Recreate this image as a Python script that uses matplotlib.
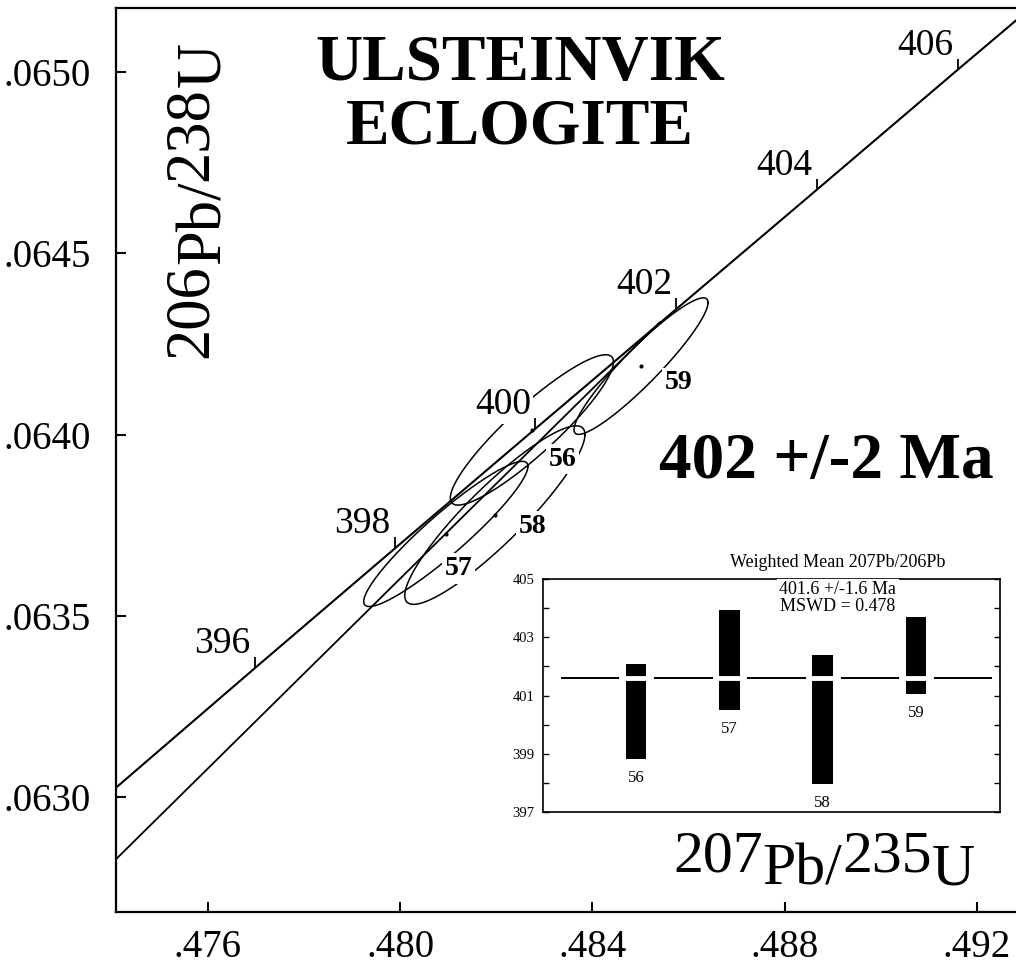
import numpy as np
import matplotlib.pyplot as plt

plt.rcParams['font.family'] = ['Liberation Serif', 'DejaVu Serif']

# concordia (age Ma, 207Pb/235U, 206Pb/238U)
conc_age = [394, 396, 398, 400, 402, 404, 406, 408]
conc_x = [0.47409, 0.47698, 0.47989, 0.48281, 0.48574, 0.48867, 0.49160, 0.49455]
conc_y = [0.063026, 0.063356, 0.063686, 0.064016, 0.064346, 0.064676, 0.065007, 0.065338]
tick_ages = [396, 398, 400, 402, 404, 406]

# regression line through the data
disc_x = [0.4741, 0.4854]
disc_y = [0.06283, 0.06431]

# zircon fractions: centre, errors, error correlation
frac = ['56', '57', '58', '59']
ell_x = [0.48274, 0.48095, 0.48197, 0.48501]
ell_y = [0.064013, 0.063726, 0.063778, 0.064189]
ell_sx = [0.001697, 0.001708, 0.001874, 0.001394]
ell_sy = [0.0002074, 0.0002003, 0.0002463, 0.0001884]
ell_rho = [0.905, 0.931, 0.902, 0.930]

# 207Pb/206Pb ages for the inset
pb_lo = [398.83, 400.51, 397.96, 401.05]
pb_hi = [402.08, 403.95, 402.38, 403.70]
wm_age = 401.6

xt = [0.476, 0.480, 0.484, 0.488, 0.492]
yt = [0.0630, 0.0635, 0.0640, 0.0645, 0.0650]

fig = plt.figure(figsize=(10.16, 9.67), dpi=100)
ax = fig.add_axes([0.1142, 0.0569, 0.8858, 0.9348])

ax.plot(conc_x, conc_y, color='k', lw=1.5, zorder=2)
ax.plot(disc_x, disc_y, color='k', lw=1.3, zorder=2)

# age ticks and labels on the concordia
for a in tick_ages:
    i = conc_age.index(a)
    ax.plot(conc_x[i], conc_y[i], marker=2, ms=8, mew=1.3, color='k')
    ax.annotate(str(a), (conc_x[i], conc_y[i]), xytext=(-3, 5), textcoords='offset points',
                ha='right', va='bottom', fontsize=27,
                bbox=dict(boxstyle='square,pad=0.05', fc='white', ec='none'), zorder=4)

# error ellipses
t = np.linspace(0, 2 * np.pi, 200)
lab_off = [(22, -21), (9, -25), (27, -8), (27, -12)]
for k in range(len(frac)):
    ex = ell_x[k] + ell_sx[k] * np.cos(t)
    ey = ell_y[k] + ell_sy[k] * (ell_rho[k] * np.cos(t) + np.sqrt(1 - ell_rho[k] ** 2) * np.sin(t))
    ax.plot(ex, ey, color='k', lw=1.1, zorder=2)
    ax.annotate(frac[k], (ell_x[k], ell_y[k]), xytext=lab_off[k], textcoords='offset points',
                ha='center', va='center', fontsize=20, fontweight='bold',
                bbox=dict(boxstyle='square,pad=0.1', fc='white', ec='none'), zorder=4)
ax.plot(ell_x, ell_y, 'k.', ms=4, zorder=3)

ax.set_xlim(0.47409, 0.49281)
ax.set_ylim(0.062683, 0.065177)
ax.set_xticks(xt)
ax.set_xticklabels(['.' + f'{v:.3f}'.split('.')[1] for v in xt], fontsize=28)
ax.set_yticks(yt)
ax.set_yticklabels(['.' + f'{v:.4f}'.split('.')[1] for v in yt], fontsize=28)
ax.tick_params(axis='y', direction='in', length=7, width=1.5, pad=18)
ax.tick_params(axis='x', direction='in', length=7, width=1.5, pad=12)
for s in ['left', 'bottom', 'top']:
    ax.spines[s].set_linewidth(1.6)
ax.spines['right'].set_visible(False)

# titles
fig.text(0.5118, 0.9173, 'ULSTEINVIK', ha='center', va='baseline', fontsize=47, fontweight='bold')
fig.text(0.5118, 0.8521, 'ECLOGITE', ha='center', va='baseline', fontsize=47, fontweight='bold')
fig.text(0.813, 0.5057, '402 +/-2 Ma', ha='center', va='baseline', fontsize=47, fontweight='bold')

# axis labels built from pieces (numbers raised)
sh = 9
fx = 43
t1 = fig.text(0.6624, 0.0849, '207', ha='left', va='bottom', fontsize=fx)
t2 = ax.annotate('Pb/', xy=(1, 0), xycoords=t1, xytext=(0, -sh), textcoords='offset points',
                 ha='left', va='bottom', fontsize=fx)
t3 = ax.annotate('235', xy=(1, 0), xycoords=t2, xytext=(0, sh), textcoords='offset points',
                 ha='left', va='bottom', fontsize=fx)
ax.annotate('U', xy=(1, 0), xycoords=t3, xytext=(0, -sh), textcoords='offset points',
            ha='left', va='bottom', fontsize=fx)

fy = 45
r1 = fig.text(163 / 1016, 1 - 358 / 967, '206', ha='left', va='bottom', rotation=90, fontsize=fy)
r2 = ax.annotate('Pb/', xy=(0, 1), xycoords=r1, xytext=(sh, 0), textcoords='offset points',
                 ha='left', va='bottom', rotation=90, fontsize=fy)
r3 = ax.annotate('238', xy=(0, 1), xycoords=r2, xytext=(-sh, 0), textcoords='offset points',
                 ha='left', va='bottom', rotation=90, fontsize=fy)
ax.annotate('U', xy=(0, 1), xycoords=r3, xytext=(sh, 0), textcoords='offset points',
            ha='left', va='bottom', rotation=90, fontsize=fy)

# inset: weighted mean 207Pb/206Pb
ax2 = fig.add_axes([0.5344, 0.1603, 0.4498, 0.2409])
pos = np.arange(1, len(frac) + 1)
ax2.bar(pos, np.array(pb_hi) - np.array(pb_lo), bottom=pb_lo, width=0.22, color='k', zorder=2)
ax2.plot([0.2, 4.8], [wm_age, wm_age], color='k', lw=1.4, zorder=3)
for p in pos:
    ax2.plot([p - 0.16, p + 0.16], [wm_age, wm_age], color='white', lw=3.5, zorder=3.5)
for p, lo, name in zip(pos, pb_lo, frac):
    ax2.annotate(name, (p, lo), xytext=(0, -8), textcoords='offset points',
                 ha='center', va='top', fontsize=12)
ax2.set_xlim(0, 4.9)
ax2.set_ylim(397, 405)
ax2.set_xticks([])
ax2.set_yticks([397, 399, 401, 403, 405])
ax2.set_yticks(np.arange(397, 406), minor=True)
ax2.tick_params(axis='y', which='both', direction='in', left=True, right=True,
                length=4, width=1, labelsize=10.5, pad=6)
for s in ax2.spines.values():
    s.set_linewidth(1.2)
ax2.text(0.645, 1.035, 'Weighted Mean 207Pb/206Pb', transform=ax2.transAxes,
         ha='center', va='bottom', fontsize=13)
ax2.text(0.645, 0.99, '401.6 +/-1.6 Ma\nMSWD = 0.478', transform=ax2.transAxes,
         ha='center', va='top', fontsize=13, linespacing=1.0, zorder=5,
         bbox=dict(boxstyle='square,pad=0.15', fc='white', ec='none'))

fig.savefig('out.png', dpi=100)
